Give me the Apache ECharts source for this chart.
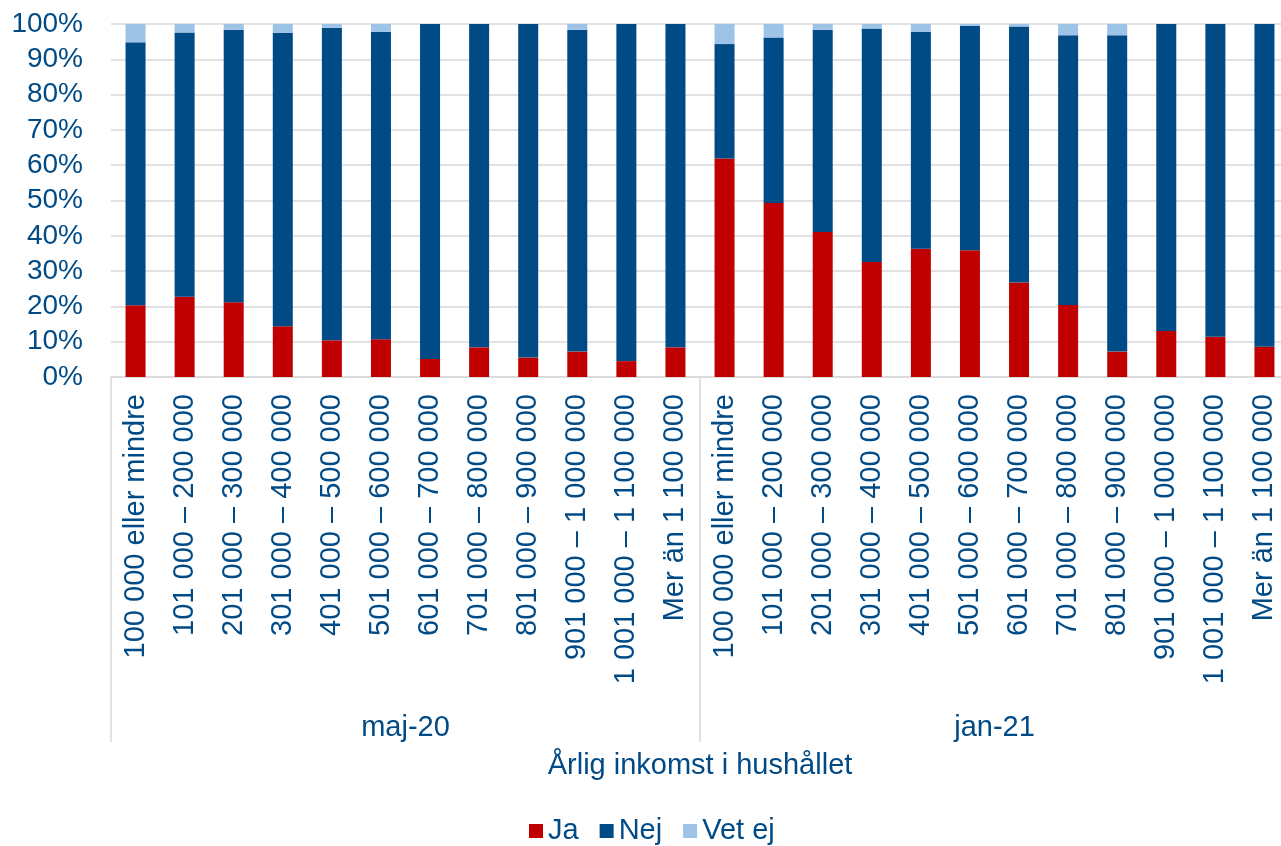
<!DOCTYPE html>
<html>
<head>
<meta charset="utf-8">
<script src="https://cdn.jsdelivr.net/npm/echarts@6/dist/echarts.min.js"></script>
<style>
  html, body { margin: 0; padding: 0; background: #fff; }
  #chart { width: 1281px; height: 846px; }
</style>
</head>
<body>
<div id="chart"></div>
<script>
// inkomstklasser (samma för båda mättillfällena)
const incomeBands = [
  "100 000 eller mindre",
  "101 000 – 200 000",
  "201 000 – 300 000",
  "301 000 – 400 000",
  "401 000 – 500 000",
  "501 000 – 600 000",
  "601 000 – 700 000",
  "701 000 – 800 000",
  "801 000 – 900 000",
  "901 000 – 1 000 000",
  "1 001 000 – 1 100 000",
  "Mer än 1 100 000"
];
const periods = ["maj-20", "jan-21"];

// andelar i procent
const jaMaj = [20.3, 22.7, 21.2, 14.4, 10.4, 10.7, 5.1, 8.4, 5.5, 7.2, 4.5, 8.4];
const nejMaj = [74.5, 74.9, 77.2, 83.1, 88.5, 87.1, 94.9, 91.6, 94.5, 91.2, 95.5, 91.6];
const vetEjMaj = [5.2, 2.4, 1.6, 2.5, 1.1, 2.2, 0, 0, 0, 1.6, 0, 0];

const jaJan = [61.9, 49.3, 41.1, 32.6, 36.3, 35.9, 26.8, 20.4, 7.2, 13.0, 11.4, 8.6];
const nejJan = [32.4, 46.9, 57.3, 66.1, 61.5, 63.6, 72.5, 76.4, 89.6, 87.0, 88.6, 91.4];
const vetEjJan = [5.7, 3.8, 1.6, 1.3, 2.2, 0.5, 0.7, 3.2, 3.2, 0, 0, 0];

const textColor = "#004A86";
const gridColor = "#D9D9D9";
const font = "Liberation Sans, Arial, sans-serif";

const categories = incomeBands.concat(incomeBands);

const myChart = echarts.init(document.getElementById("chart"), null, { renderer: "canvas" });

const option = {
  animation: false,
  textStyle: { fontFamily: font },
  // plottytan fortsätter lite utanför bildens högra kant, som i originalet
  grid: {
    left: 111, width: 1178, top: 24, bottom: 469,
    containLabel: false,
    outerBoundsMode: "none"
  },
  legend: {
    data: ["Ja", "Nej", "Vet ej"],
    left: 529,
    top: 814,
    padding: 0,
    icon: "rect",
    itemWidth: 14,
    itemHeight: 14,
    itemGap: 21,
    textStyle: { color: textColor, fontSize: 29, fontFamily: font, lineHeight: 34 }
  },
  xAxis: [
    {
      type: "category",
      data: categories,
      position: "bottom",
      axisLine: { show: true, lineStyle: { color: gridColor, width: 1.5 } },
      axisTick: { show: false },
      axisLabel: {
        interval: 0,
        rotate: 90,
        margin: 17,
        color: textColor,
        fontSize: 29,
        fontFamily: font
      },
      name: "Årlig inkomst i hushållet",
      nameLocation: "middle",
      nameGap: 374,
      nameTextStyle: { color: textColor, fontSize: 29, fontFamily: font, verticalAlign: "top" }
    },
    {
      type: "category",
      data: periods,
      position: "bottom",
      axisLine: { show: false },
      axisTick: { show: true, length: 365, lineStyle: { color: gridColor, width: 1.5 } },
      axisLabel: {
        interval: 0,
        margin: 336,
        color: textColor,
        fontSize: 29,
        fontFamily: font
      }
    }
  ],
  yAxis: {
    type: "value",
    min: 0,
    max: 100,
    interval: 10,
    axisLine: { show: false },
    axisTick: { show: false },
    splitLine: { show: true, lineStyle: { color: gridColor, width: 1.5 } },
    axisLabel: {
      formatter: "{value}%",
      margin: 28,
      color: textColor,
      fontSize: 28,
      fontFamily: font
    }
  },
  series: [
    {
      name: "Ja",
      type: "bar",
      stack: "total",
      barWidth: 20,
      itemStyle: { color: "#C00000" },
      data: jaMaj.concat(jaJan)
    },
    {
      name: "Nej",
      type: "bar",
      stack: "total",
      barWidth: 20,
      itemStyle: { color: "#004A86" },
      data: nejMaj.concat(nejJan)
    },
    {
      name: "Vet ej",
      type: "bar",
      stack: "total",
      barWidth: 20,
      itemStyle: { color: "#9DC3E6" },
      data: vetEjMaj.concat(vetEjJan)
    }
  ]
};

myChart.setOption(option);
</script>
</body>
</html>
